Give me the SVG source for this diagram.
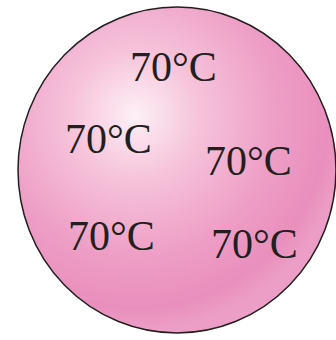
<svg xmlns="http://www.w3.org/2000/svg" width="336" height="340" viewBox="0 0 336 340">
<style>
.t{font-family:"Liberation Serif","Times New Roman",serif;font-size:42px;fill:#231f20}
</style>
<defs>
<radialGradient id="g" cx="135" cy="115" r="215" gradientUnits="userSpaceOnUse">
<stop offset="0" stop-color="#fdf0f6"/>
<stop offset="0.3" stop-color="#f6c3da"/>
<stop offset="0.65" stop-color="#ee9fc6"/>
<stop offset="0.9" stop-color="#e98fbd"/>
<stop offset="1" stop-color="#ec9ec6"/>
</radialGradient>
</defs>
<rect width="336" height="340" fill="#ffffff"/>
<g id="sphere">
<ellipse cx="177" cy="170" rx="159" ry="163" fill="url(#g)" stroke="#231f20" stroke-width="1.5"/>
</g>
<g id="labels">
<text class="t" x="130" y="81">70°C</text>
<text class="t" x="65" y="153">70°C</text>
<text class="t" x="205" y="175">70°C</text>
<text class="t" x="68" y="250">70°C</text>
<text class="t" x="211" y="258">70°C</text>
</g>
</svg>
